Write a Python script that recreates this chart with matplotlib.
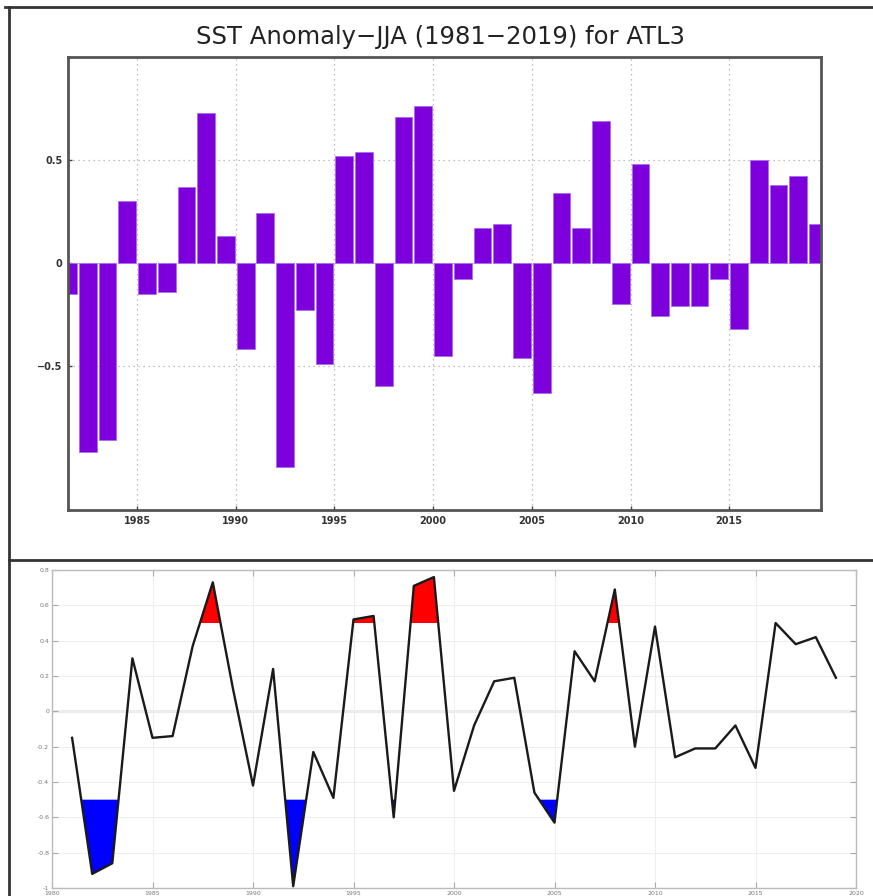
import matplotlib.pyplot as plt
from matplotlib.lines import Line2D
import numpy as np

years = list(range(1981, 2020))
sst_anom = [-0.15, -0.92, -0.86, 0.30, -0.15, -0.14, 0.37, 0.73, 0.13, -0.42,
            0.24, -0.99, -0.23, -0.49, 0.52, 0.54, -0.60, 0.71, 0.76, -0.45,
            -0.08, 0.17, 0.19, -0.46, -0.63, 0.34, 0.17, 0.69, -0.20, 0.48,
            -0.26, -0.21, -0.21, -0.08, -0.32, 0.50, 0.38, 0.42, 0.19]
top_xticks = [1985, 1990, 1995, 2000, 2005, 2010, 2015]
top_yticks = [-0.5, 0, 0.5]
top_ylabels = ['\u22120.5', '0', '0.5']
bot_xticks = [1980, 1985, 1990, 1995, 2000, 2005, 2010, 2015, 2020]
bot_yticks = [-1, -0.8, -0.6, -0.4, -0.2, 0, 0.2, 0.4, 0.6, 0.8]
bot_ylabels = ['-1', '-0.8', '-0.6', '-0.4', '-0.2', '0', '0.2', '0.4', '0.6', '0.8']
hi_thr = 0.5
lo_thr = -0.5

fig = plt.figure(figsize=(8.73, 8.96), dpi=100)

# frame lines of the two stacked panels
fig.add_artist(Line2D([5/873, 1], [1-7.5/896, 1-7.5/896], color='#333333', lw=2))
fig.add_artist(Line2D([9/873, 9/873], [0, 1-7.5/896], color='#333333', lw=2))
fig.add_artist(Line2D([9/873, 1], [1-560/896, 1-560/896], color='#333333', lw=2))

# top panel: bar chart
ax1 = fig.add_axes([68/873, 1-510/896, 753/873, 453/896])
x = np.array(years) + 0.5
ax1.bar(x, sst_anom, width=0.9, color='#7d00dc', edgecolor='#a86ef0', linewidth=0.6, zorder=2)
ax1.set_xlim(1981.5, 2019.65)
ax1.set_ylim(-1.2, 1.0)
ax1.set_xticks(top_xticks)
ax1.set_yticks(top_yticks)
ax1.set_yticklabels(top_ylabels)
ax1.grid(True, color='#aaaaaa', linestyle=(0, (1, 3)), linewidth=0.9, zorder=0)
ax1.tick_params(direction='in', length=3, width=1, color='#444444', labelsize=7, pad=4)
for lab in ax1.get_xticklabels() + ax1.get_yticklabels():
    lab.set_fontweight('bold')
    lab.set_color('#333333')
for s in ax1.spines.values():
    s.set_color('#555555')
    s.set_linewidth(2)
fig.text(440/873, 1-37/896, 'SST Anomaly\u2212JJA (1981\u22122019) for ATL3',
         ha='center', va='center', fontsize=17.5, color='#222222')

# bottom panel: line with threshold fills
ax2 = fig.add_axes([52/873, 1-888/896, 804/873, 318/896])
yv = np.array(sst_anom)
ax2.fill_between(years, yv, hi_thr, where=yv > hi_thr, interpolate=True, color='#ff0000', lw=0, zorder=2)
ax2.fill_between(years, yv, lo_thr, where=yv < lo_thr, interpolate=True, color='#0000ff', lw=0, zorder=2)
ax2.plot(years, sst_anom, color='#1a1a1a', lw=1.7, zorder=3)
ax2.axhline(0, color='#999999', lw=1, zorder=1)
ax2.set_xlim(1980, 2020)
ax2.set_ylim(-1, 0.8)
ax2.set_xticks(bot_xticks)
ax2.set_yticks(bot_yticks)
ax2.set_yticklabels(bot_ylabels)
ax2.grid(True, color='#eeeeee', linewidth=0.8, zorder=0)
ax2.tick_params(direction='in', length=4, width=0.8, color='#aaaaaa', labelsize=4.5,
                labelcolor='#777777', top=True, right=True, pad=2)
for s in ax2.spines.values():
    s.set_color('#bbbbbb')
    s.set_linewidth(1)

fig.savefig('out.png', dpi=100)
